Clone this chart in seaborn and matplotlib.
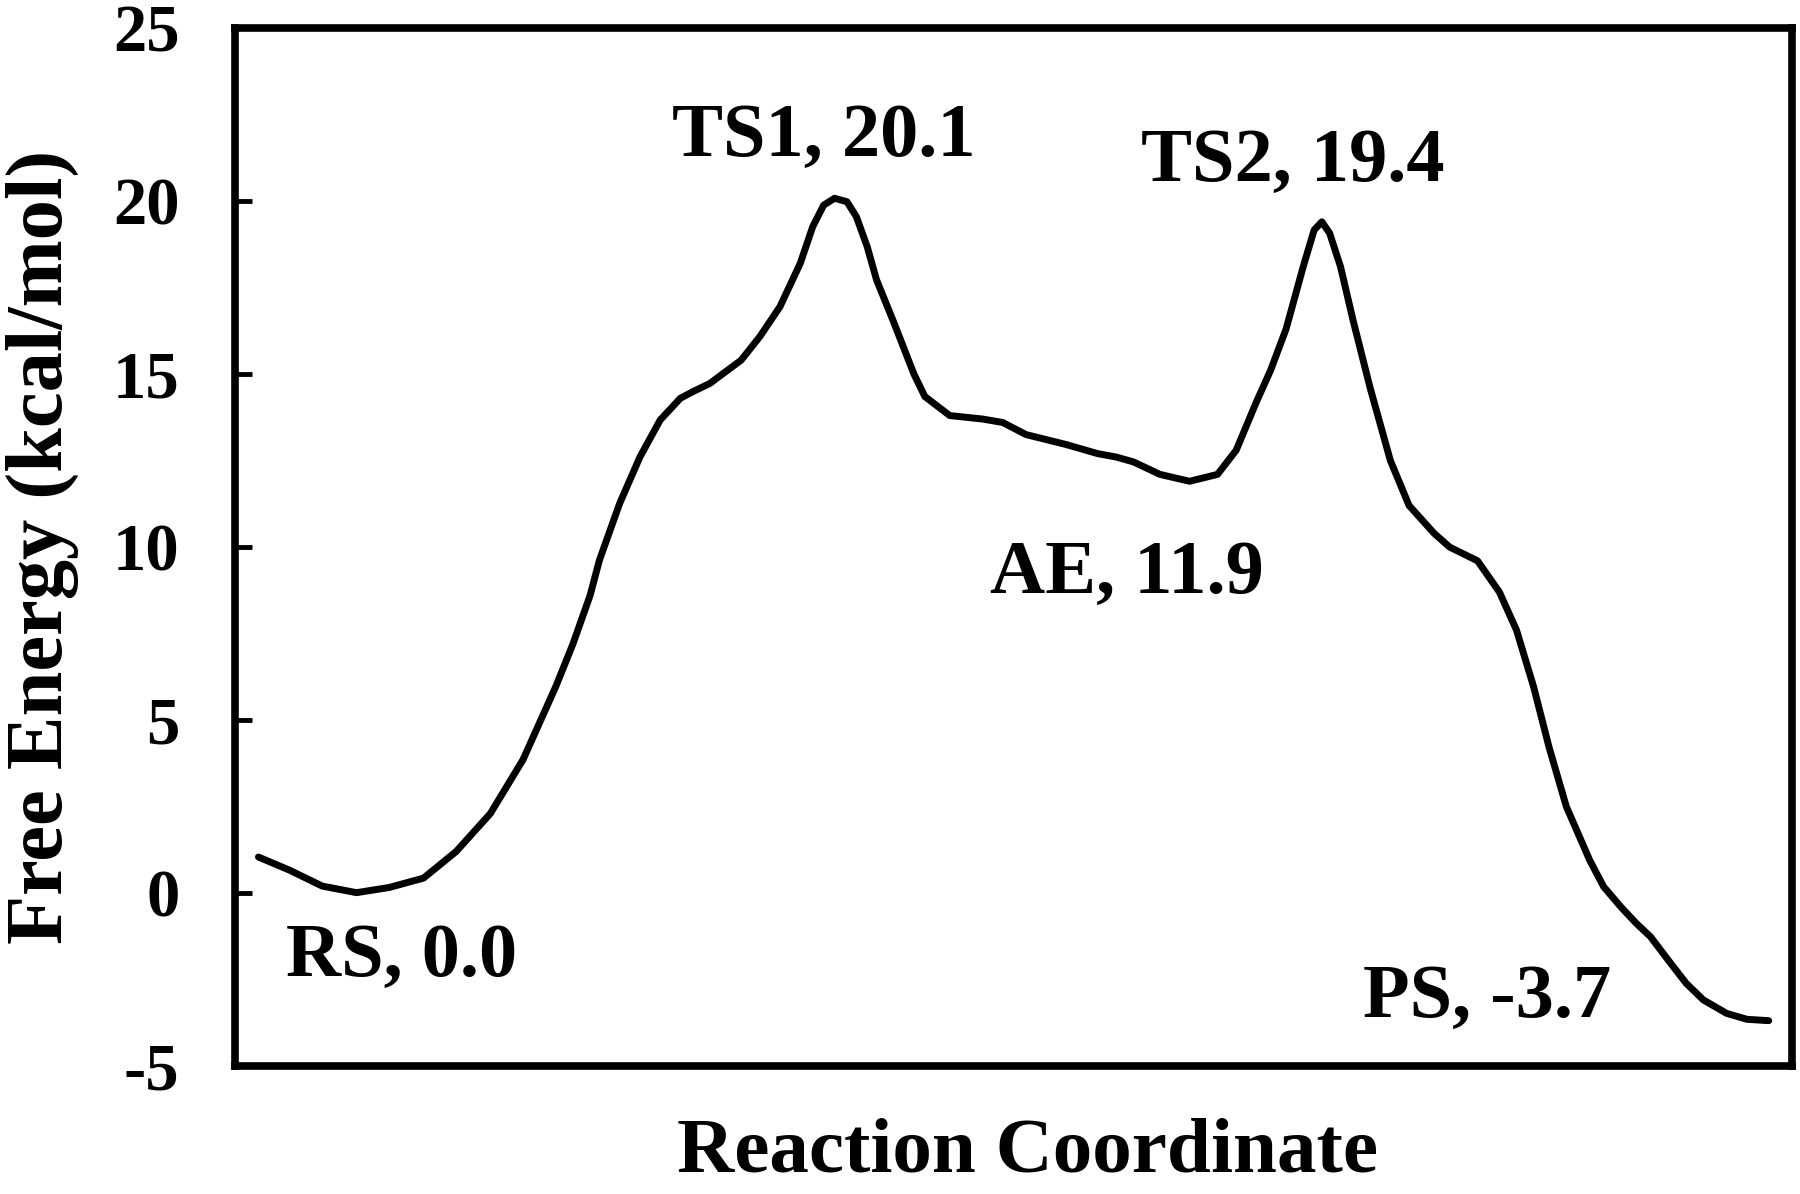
import matplotlib
matplotlib.use("Agg")
import matplotlib.pyplot as plt
import seaborn as sns
import pandas as pd

# reaction coordinate (arbitrary units) and free energy (kcal/mol)
coord = [1.5, 3.5, 5.6, 7.8, 9.9, 12.1, 14.2, 16.4, 18.5, 20.6, 21.7, 22.8, 23.4, 24.7,
         26.0, 27.3, 28.6, 29.4, 30.5, 31.6, 32.5, 33.7, 35.0, 36.3, 37.1, 37.8, 38.5,
         39.3, 39.9, 40.6, 41.2, 42.3, 43.6, 44.3, 45.9, 48.0, 49.3, 50.8, 53.4, 55.4,
         56.6, 57.7, 59.4, 61.3, 63.1, 64.3, 65.6, 66.5, 67.5, 68.6, 69.3, 69.8, 70.3,
         71.0, 71.8, 72.9, 74.2, 75.4, 77.0, 78.0, 79.8, 81.2, 82.3, 83.4, 84.4, 85.5,
         87.0, 87.9, 89.0, 90.0, 90.9, 92.2, 93.2, 94.3, 95.8, 97.1, 98.5]
energy = [1.04, 0.66, 0.20, 0.01, 0.16, 0.43, 1.2, 2.3, 3.86, 5.97, 7.2, 8.6, 9.62, 11.26,
          12.6, 13.67, 14.3, 14.49, 14.73, 15.1, 15.4, 16.08, 16.95, 18.2, 19.26, 19.88, 20.08,
          19.98, 19.55, 18.68, 17.72, 16.5, 15.0, 14.35, 13.8, 13.7, 13.6, 13.25, 12.96, 12.7,
          12.6, 12.46, 12.1, 11.9, 12.1, 12.8, 14.2, 15.1, 16.3, 18.1, 19.16, 19.4, 19.07,
          18.1, 16.56, 14.6, 12.5, 11.2, 10.4, 10.0, 9.6, 8.7, 7.6, 5.96, 4.2, 2.5,
          0.95, 0.18, -0.4, -0.88, -1.26, -2.03, -2.61, -3.09, -3.48, -3.65, -3.69]

# state labels and where they sit
labels = ["RS, 0.0", "TS1, 20.1", "AE, 11.9", "TS2, 19.4", "PS, -3.7"]
label_x = [10.7, 37.8, 57.3, 67.9, 80.4]
label_y = [-2.4, 21.3, 8.66, 20.58, -3.58]

yticks = [-5, 0, 5, 10, 15, 20, 25]

sns.set_style("ticks")
plt.rcParams['font.family'] = ['Liberation Serif', 'DejaVu Serif']
plt.rcParams['font.weight'] = 'bold'
plt.rcParams['axes.unicode_minus'] = False
for k in ['text.color', 'axes.labelcolor', 'xtick.color', 'ytick.color', 'axes.edgecolor']:
    plt.rcParams[k] = 'black'

df = pd.DataFrame({"x": coord, "y": energy})

fig = plt.figure(figsize=(18, 11.94), dpi=100)
ax = fig.add_axes([0.1306, 0.1072, 0.865, 0.8693])

sns.lineplot(data=df, x="x", y="y", ax=ax, color="black", linewidth=5,
             sort=False, estimator=None, solid_joinstyle="round", solid_capstyle="round")

for t, lx, ly in zip(labels, label_x, label_y):
    ax.text(lx, ly, t, ha="center", va="baseline", fontsize=55, fontweight="bold")

ax.set_xlim(0, 100)
ax.set_ylim(-5, 25)
ax.set_xticks([])
ax.set_yticks(yticks)
ax.set_yticklabels([str(v) for v in yticks])
ax.tick_params(axis="y", direction="in", length=12, width=3.5, pad=40,
               labelsize=48)

for s in ax.spines.values():
    s.set_linewidth(5.5)
    s.set_color("black")
    s.set_visible(True)

ax.set_xlabel("Reaction Coordinate", fontsize=57, fontweight="bold")
ax.set_ylabel("Free Energy (kcal/mol)", fontsize=58, fontweight="bold")
ax.xaxis.set_label_coords(0.509, -0.05)
ax.yaxis.set_label_coords(-0.1, 0.5)

fig.savefig("out.png", dpi=100)
